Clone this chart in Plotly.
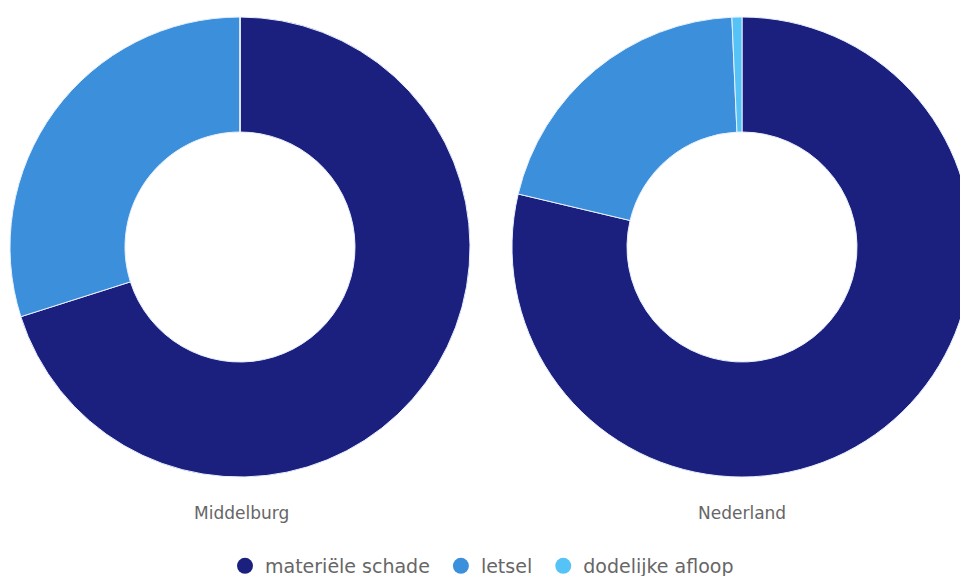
import plotly.graph_objects as go

categories = ["materiële schade", "letsel", "dodelijke afloop"]
middelburg = [70.1, 29.9, 0.0]
nederland = [78.7, 20.6, 0.7]
region_names = ["Middelburg", "Nederland"]
colors = ["#1b1f7e", "#3b8fdb", "#55c3f5"]

W, H = 976, 576

def dom_x(left, right):
    return [left / W, right / W]

def dom_y(top, bottom):
    return [1 - bottom / H, 1 - top / H]

fig = go.Figure()
pie_common = dict(
    labels=categories,
    hole=0.5,
    sort=False,
    direction="clockwise",
    rotation=0,
    textinfo="none",
    showlegend=False,
    marker=dict(colors=colors, line=dict(color="#e8f0ff", width=1)),
)
fig.add_trace(go.Pie(values=middelburg, name=region_names[0],
                     domain=dict(x=dom_x(10, 470), y=dom_y(17, 477)), **pie_common))
fig.add_trace(go.Pie(values=nederland, name=region_names[1],
                     domain=dict(x=dom_x(512, 972), y=dom_y(17, 477)), **pie_common))

for cat, col in zip(categories, colors):
    fig.add_trace(go.Scatter(x=[None], y=[None], mode="markers", name=cat + "\u00a0",
                             marker=dict(symbol="circle", size=18, color=col),
                             showlegend=True))

for name, cx in zip(region_names, [241, 742]):
    fig.add_annotation(text=name, x=cx / W, y=1 - 513 / H, xref="paper", yref="paper",
                       showarrow=False, xanchor="center", yanchor="middle",
                       font=dict(size=17, color="#666666"))

fig.update_layout(
    width=W, height=H,
    margin=dict(l=0, r=0, t=0, b=0, autoexpand=False),
    paper_bgcolor="white", plot_bgcolor="white",
    font=dict(family="DejaVu Sans, sans-serif", color="#666666"),
    xaxis=dict(visible=False), yaxis=dict(visible=False),
    legend=dict(orientation="h", x=485 / W, xanchor="center", y=1 - 566 / H, yanchor="middle",
                font=dict(size=19, color="#666666"),
                itemwidth=30, tracegroupgap=0),
)

fig.write_html("out.html", config={"displayModeBar": False},
               post_script="document.body.style.margin='0';document.body.style.overflow='hidden';")
